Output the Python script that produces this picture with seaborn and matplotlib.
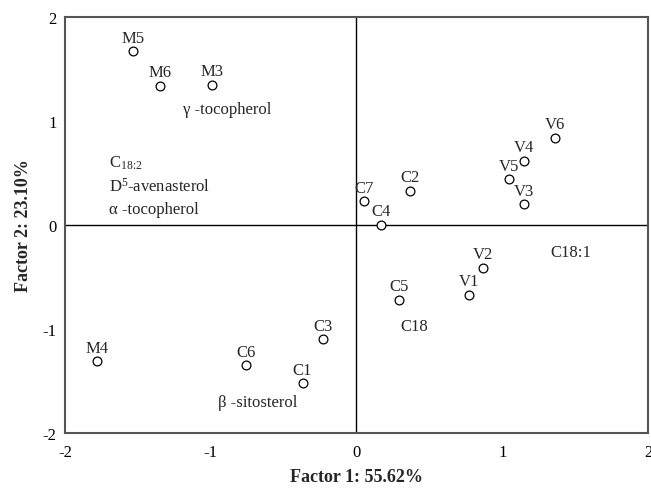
import matplotlib
matplotlib.use("Agg")
import matplotlib.pyplot as plt
import seaborn as sns
import pandas as pd

samples = ["M5", "M6", "M3", "M4", "C6", "C1", "C3", "C7", "C4", "C2", "C5",
           "V1", "V2", "V5", "V4", "V3", "V6"]
factor1 = [-1.53, -1.35, -0.99, -1.78, -0.76, -0.37, -0.23, 0.05, 0.17, 0.37, 0.29,
           0.77, 0.87, 1.05, 1.15, 1.15, 1.36]
factor2 = [1.67, 1.34, 1.35, -1.31, -1.35, -1.52, -1.10, 0.23, 0.00, 0.33, -0.72,
           -0.67, -0.41, 0.44, 0.62, 0.20, 0.84]

var_labels = ["γ -tocopherol", r"C$_{18\!:\!2}$", r"D$^{5}$-avenasterol", "α -tocopherol",
              "C18:1", "C18", "β -sitosterol"]
var_x = [-1.19, -1.70, -1.70, -1.70, 1.33, 0.30, -0.95]
var_y = [1.12, 0.60, 0.38, 0.15, -0.26, -0.97, -1.70]

sns.set_style("white")
plt.rcParams['font.family'] = ['Liberation Serif', 'DejaVu Serif']
plt.rcParams['mathtext.fontset'] = 'custom'
plt.rcParams['mathtext.rm'] = 'Liberation Serif'
plt.rcParams['mathtext.it'] = 'Liberation Serif'

df = pd.DataFrame({"Factor 1": factor1, "Factor 2": factor2, "label": samples})

fig = plt.figure(figsize=(6.51, 4.89), dpi=100)
ax = fig.add_axes([0.0998, 0.1125, 0.8955, 0.8507])

ax.axhline(0, color="black", lw=1.0, zorder=1)
ax.axvline(0, color="black", lw=1.0, zorder=1)

sns.scatterplot(data=df, x="Factor 1", y="Factor 2", ax=ax, marker="o",
                facecolor="white", edgecolor="black", linewidth=0.9, s=40, zorder=3)

for lab, x, y in zip(samples, factor1, factor2):
    ax.annotate(lab, (x, y), xytext=(0, 4), textcoords="offset points",
                ha="center", va="bottom", fontsize=12)

for lab, x, y in zip(var_labels, var_x, var_y):
    ax.text(x, y, lab, ha="left", va="center", fontsize=12)

ax.set_xlim(-2, 2)
ax.set_ylim(-2, 2)
ax.set_xticks([-2, -1, 0, 1, 2])
ax.set_yticks([-2, -1, 0, 1, 2])
ax.set_xticklabels(["-2", "-1", "0", "1", "2"])
ax.set_yticklabels(["-2", "-1", "0", "1", "2"])
ax.tick_params(direction="in", length=4, width=1, labelsize=12, colors="black")
ax.tick_params(axis="x", pad=8)
ax.tick_params(axis="y", pad=6)
for sp in ax.spines.values():
    sp.set_color("#555555")
    sp.set_linewidth(1.5)

ax.set_xlabel("Factor 1: 55.62%", fontsize=13, fontweight="bold", labelpad=6)
ax.set_ylabel("Factor 2: 23.10%", fontsize=13, fontweight="bold", labelpad=8)

fig.savefig("out.png", dpi=100)
